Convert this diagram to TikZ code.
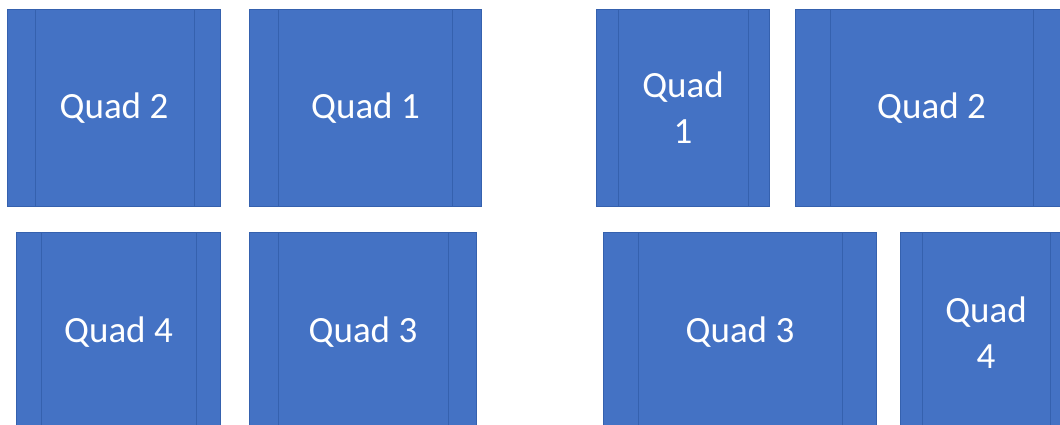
\documentclass[tikz,border=0pt]{standalone}
\usepackage{fontspec}
\setmainfont{Carlito}
\definecolor{qfill}{HTML}{4472C4}
\definecolor{qline}{HTML}{3561AE}
\tikzset{
  quad/.style={rectangle, anchor=north west, fill=qfill, draw=qline, line width=1pt,
    inner sep=0pt, align=center, text=white,
    font=\fontsize{37}{46}\selectfont},
  qtext/.style={inner sep=0pt, align=center, text=white,
    font=\fontsize{37}{46}\selectfont},
  sideline/.style={draw=qline, line width=1pt}
}
\begin{document}
\begin{tikzpicture}[x=1pt,y=-1pt]
\useasboundingbox (0,0) rectangle (1060,424);
\clip (0,0) rectangle (1060,424);
\fill[white] (0,0) rectangle (1060,424);
% top left
\node[quad, minimum width=213pt, minimum height=197pt] (q2a) at (7,9) {Quad 2};
\node[quad, minimum width=232pt, minimum height=197pt] (q1a) at (249,9) {Quad 1};
% bottom left
\node[quad, minimum width=204pt, minimum height=200pt] (q4a) at (16,232) {Quad 4};
\node[quad, minimum width=227pt, minimum height=200pt] (q3a) at (249,232) {Quad 3};
% top right
\node[quad, minimum width=173pt, minimum height=197pt] (q1b) at (596,9) {Quad\\1};
\node[quad, minimum width=300pt, minimum height=197pt] (q2b) at (795,9) {};
\node[qtext] (t2b) at ([xshift=136.5pt]q2b.west) {Quad 2};
% bottom right
\node[quad, minimum width=273pt, minimum height=200pt] (q3b) at (603,232) {Quad 3};
\node[quad, minimum width=200pt, minimum height=200pt] (q4b) at (900,232) {};
\node[qtext] (t4b) at ([xshift=86pt]q4b.west) {Quad\\4};
% side lines
\draw[sideline] ([xshift=28pt]q2a.north west) -- ([xshift=28pt]q2a.south west);
\draw[sideline] ([xshift=-27pt]q2a.north east) -- ([xshift=-27pt]q2a.south east);
\draw[sideline] ([xshift=29pt]q1a.north west) -- ([xshift=29pt]q1a.south west);
\draw[sideline] ([xshift=-30pt]q1a.north east) -- ([xshift=-30pt]q1a.south east);
\draw[sideline] ([xshift=25pt]q4a.north west) -- ([xshift=25pt]q4a.south west);
\draw[sideline] ([xshift=-25pt]q4a.north east) -- ([xshift=-25pt]q4a.south east);
\draw[sideline] ([xshift=29pt]q3a.north west) -- ([xshift=29pt]q3a.south west);
\draw[sideline] ([xshift=-29pt]q3a.north east) -- ([xshift=-29pt]q3a.south east);
\draw[sideline] ([xshift=22pt]q1b.north west) -- ([xshift=22pt]q1b.south west);
\draw[sideline] ([xshift=-22pt]q1b.north east) -- ([xshift=-22pt]q1b.south east);
\draw[sideline] ([xshift=35pt]q2b.north west) -- ([xshift=35pt]q2b.south west);
\draw[sideline] ([xshift=238pt]q2b.north west) -- ([xshift=238pt]q2b.south west);
\draw[sideline] ([xshift=35pt]q3b.north west) -- ([xshift=35pt]q3b.south west);
\draw[sideline] ([xshift=-35pt]q3b.north east) -- ([xshift=-35pt]q3b.south east);
\draw[sideline] ([xshift=22pt]q4b.north west) -- ([xshift=22pt]q4b.south west);
\draw[sideline] ([xshift=150pt]q4b.north west) -- ([xshift=150pt]q4b.south west);
\end{tikzpicture}
\end{document}
